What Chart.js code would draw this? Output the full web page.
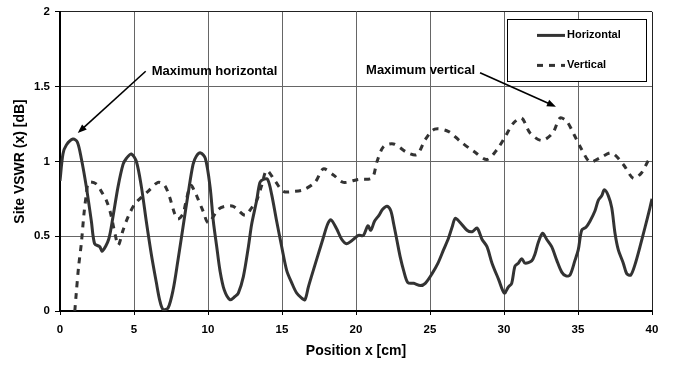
<!DOCTYPE html>
<html><head><meta charset="utf-8">
<script src="https://cdn.jsdelivr.net/npm/chart.js@4.4.1/dist/chart.umd.min.js"></script>
<style>html,body{margin:0;padding:0;background:#fff;}#wrap{width:679px;height:367px;position:relative;}</style>
</head><body><div id="wrap"><canvas id="c" width="679" height="367"></canvas></div>
<script>
const seriesNames = ['Horizontal', 'Vertical'];
const hx = [0.0,0.2,0.43,0.88,1.17,1.44,1.78,2.12,2.34,2.68,2.86,3.29,3.58,3.92,4.26,4.48,4.82,5.16,5.5,5.83,6.17,6.51,6.73,6.96,7.3,7.64,7.97,8.31,8.65,8.99,9.21,9.5,9.82,10.14,10.36,10.59,10.81,11.1,11.49,11.82,12.05,12.39,12.73,12.95,13.29,13.51,13.74,14.03,14.3,14.64,14.98,15.32,15.65,15.99,16.33,16.55,16.78,17.11,17.45,17.79,18.08,18.3,18.69,19.03,19.37,19.71,20.16,20.5,20.8,21.0,21.25,21.55,21.8,22.1,22.35,22.55,22.77,22.99,23.22,23.5,23.9,24.35,24.68,25.14,25.54,25.92,26.26,26.49,26.71,27.05,27.5,27.84,28.18,28.51,28.85,29.19,29.64,30.02,30.29,30.52,30.74,30.97,31.2,31.42,31.87,32.09,32.32,32.61,32.88,33.22,33.56,33.9,34.19,34.46,34.8,35.02,35.25,35.54,35.81,36.15,36.37,36.6,36.78,37.05,37.28,37.5,37.72,38.06,38.29,38.56,38.85,39.19,39.53,39.86,40.0];
const hy = [0.87,1.05,1.11,1.15,1.13,1.02,0.83,0.60,0.45,0.43,0.40,0.48,0.63,0.83,0.98,1.02,1.05,1.00,0.83,0.60,0.38,0.19,0.075,0.01,0.02,0.14,0.34,0.56,0.78,0.98,1.035,1.057,1.02,0.83,0.60,0.43,0.27,0.14,0.075,0.097,0.12,0.23,0.43,0.58,0.74,0.86,0.88,0.88,0.78,0.60,0.43,0.27,0.19,0.12,0.086,0.075,0.16,0.27,0.38,0.49,0.58,0.61,0.55,0.48,0.45,0.47,0.505,0.505,0.57,0.54,0.60,0.64,0.68,0.70,0.67,0.58,0.47,0.36,0.27,0.19,0.185,0.17,0.185,0.25,0.32,0.41,0.49,0.56,0.62,0.59,0.54,0.53,0.555,0.48,0.43,0.32,0.21,0.12,0.16,0.185,0.30,0.32,0.35,0.32,0.335,0.38,0.46,0.52,0.48,0.43,0.34,0.26,0.235,0.24,0.34,0.41,0.54,0.56,0.60,0.67,0.74,0.77,0.81,0.77,0.69,0.52,0.41,0.32,0.25,0.24,0.31,0.43,0.56,0.69,0.75];
const vx = [1.0,1.1,1.26,1.44,1.62,1.78,1.94,2.45,2.79,3.13,3.4,3.58,3.74,3.94,4.26,4.6,5.05,5.5,5.95,6.62,7.07,7.41,7.75,7.97,8.31,8.53,8.83,9.1,9.32,9.66,10.02,10.7,11.15,11.71,12.5,12.95,13.29,13.63,13.96,14.53,15.09,15.88,16.44,17.23,17.79,18.47,19.14,20.16,21.08,21.42,21.87,22.54,23.45,24.12,24.68,25.32,26.26,27.05,27.95,28.85,29.53,30.09,30.63,31.2,31.76,32.55,33.29,33.78,34.23,34.73,35.25,35.81,36.49,37.28,38.06,38.74,39.3,39.75,40.0];
const vy = [0.0,0.12,0.30,0.45,0.65,0.78,0.86,0.85,0.80,0.74,0.66,0.58,0.505,0.44,0.54,0.63,0.715,0.76,0.80,0.86,0.84,0.76,0.65,0.615,0.65,0.74,0.84,0.80,0.75,0.67,0.59,0.68,0.70,0.70,0.64,0.69,0.74,0.84,0.94,0.87,0.80,0.80,0.81,0.86,0.95,0.91,0.86,0.88,0.89,1.0,1.10,1.117,1.06,1.046,1.146,1.216,1.20,1.134,1.068,1.013,1.08,1.167,1.256,1.29,1.19,1.14,1.19,1.29,1.27,1.18,1.08,0.997,1.024,1.057,0.98,0.887,0.925,1.006,1.03];
const xTickLabels = ['0','5','10','15','20','25','30','35','40'];
const yTickLabels = ['0','0.5','1','1.5','2'];
const xTitle = 'Position x [cm]';
const yTitle = 'Site VSWR (x) [dB]';
const noteTexts = ['Maximum horizontal', 'Maximum vertical'];

const FONT = "'Liberation Sans', Arial, sans-serif";
const INK = '#333333';

// annotation anchors in data units
const notes = [
  { text: noteTexts[0], tx: 6.2, ty: 1.605, fromX: 5.79, fromY: 1.603, toX: 1.2, toY: 1.19 },
  { text: noteTexts[1], tx: 20.68, ty: 1.61, fromX: 28.38, fromY: 1.593, toX: 33.51, toY: 1.366 }
];

function pts(xs, ys) { return xs.map((x, i) => ({ x: x, y: ys[i] })); }

const overlay = {
  id: 'overlay',
  afterDraw(chart) {
    const ctx = chart.ctx, xs = chart.scales.x, ys = chart.scales.y, a = chart.chartArea;
    ctx.save();
    ctx.font = 'bold 13px ' + FONT;
    ctx.fillStyle = '#000';
    ctx.textBaseline = 'middle';
    ctx.textAlign = 'left';
    notes.forEach(n => {
      ctx.fillText(n.text, xs.getPixelForValue(n.tx), ys.getPixelForValue(n.ty));
      const x1 = xs.getPixelForValue(n.fromX), y1 = ys.getPixelForValue(n.fromY);
      const x2 = xs.getPixelForValue(n.toX), y2 = ys.getPixelForValue(n.toY);
      const ang = Math.atan2(y2 - y1, x2 - x1), L = 9, W = 3.5;
      ctx.strokeStyle = '#000'; ctx.lineWidth = 1.6;
      ctx.beginPath(); ctx.moveTo(x1, y1);
      ctx.lineTo(x2 - Math.cos(ang) * L * 0.8, y2 - Math.sin(ang) * L * 0.8); ctx.stroke();
      ctx.beginPath();
      ctx.moveTo(x2, y2);
      ctx.lineTo(x2 - Math.cos(ang) * L - Math.sin(ang) * W, y2 - Math.sin(ang) * L + Math.cos(ang) * W);
      ctx.lineTo(x2 - Math.cos(ang) * L + Math.sin(ang) * W, y2 - Math.sin(ang) * L - Math.cos(ang) * W);
      ctx.closePath(); ctx.fillStyle = '#000'; ctx.fill();
    });
    const w = 139, h = 62, x0 = a.right - 6 - w, y0 = a.top + 7;
    ctx.fillStyle = '#fff'; ctx.fillRect(x0, y0, w, h);
    ctx.strokeStyle = '#000'; ctx.lineWidth = 1;
    ctx.strokeRect(Math.round(x0) + 0.5, Math.round(y0) + 0.5, w, h);
    ctx.font = 'bold 11px ' + FONT;
    chart.data.datasets.forEach((ds, i) => {
      const yy = y0 + 16.5 + i * 30;
      ctx.strokeStyle = INK; ctx.lineWidth = ds.borderWidth;
      ctx.setLineDash(ds.borderDash || []);
      ctx.beginPath(); ctx.moveTo(x0 + 30, yy); ctx.lineTo(x0 + 58, yy); ctx.stroke();
      ctx.setLineDash([]);
      ctx.fillStyle = '#000';
      ctx.fillText(ds.label, x0 + 60, yy);
    });
    ctx.restore();
  }
};

new Chart(document.getElementById('c'), {
  type: 'line',
  data: {
    datasets: [
      { label: seriesNames[0], data: pts(hx, hy), borderColor: INK, borderWidth: 3, pointRadius: 0, tension: 0.3, fill: false },
      { label: seriesNames[1], data: pts(vx, vy), borderColor: INK, borderWidth: 3, borderDash: [6, 6], pointRadius: 0, tension: 0.3, fill: false }
    ]
  },
  options: {
    responsive: false,
    devicePixelRatio: 1,
    animation: false,
    layout: { padding: { left: 0, right: 27, top: 9, bottom: 0 } },
    plugins: { legend: { display: false }, tooltip: { enabled: false } },
    scales: {
      x: {
        type: 'linear', min: 0, max: 40,
        ticks: { stepSize: 5, autoSkip: false, maxRotation: 0, padding: 8, color: '#000',
                 font: { family: FONT, size: 11.5, weight: 'bold' },
                 callback: (v, i) => xTickLabels[i] },
        grid: { color: c => (c.tick && c.tick.value === 40 ? '#222' : '#666'), lineWidth: 1, tickLength: 4, tickColor: '#000' },
        border: { color: '#000', width: 2 },
        title: { display: true, text: xTitle, color: '#000', font: { family: FONT, size: 14, weight: 'bold' }, padding: { top: 0, bottom: 7 } },
        afterFit: s => { s.height = 56; }
      },
      y: {
        type: 'linear', min: 0, max: 2,
        ticks: { stepSize: 0.5, autoSkip: false, padding: 5, color: '#000',
                 font: { family: FONT, size: 11.5, weight: 'bold' },
                 callback: (v, i) => yTickLabels[i] },
        grid: { color: c => (c.tick && c.tick.value === 2 ? '#222' : '#666'), lineWidth: 1, tickLength: 5, tickColor: '#000' },
        border: { color: '#000', width: 2 },
        title: { display: true, text: yTitle, color: '#000', font: { family: FONT, size: 14, weight: 'bold' }, padding: { top: 12, bottom: 12 } },
        afterFit: s => { s.width = 60; }
      }
    }
  },
  plugins: [overlay]
});
</script></body></html>
